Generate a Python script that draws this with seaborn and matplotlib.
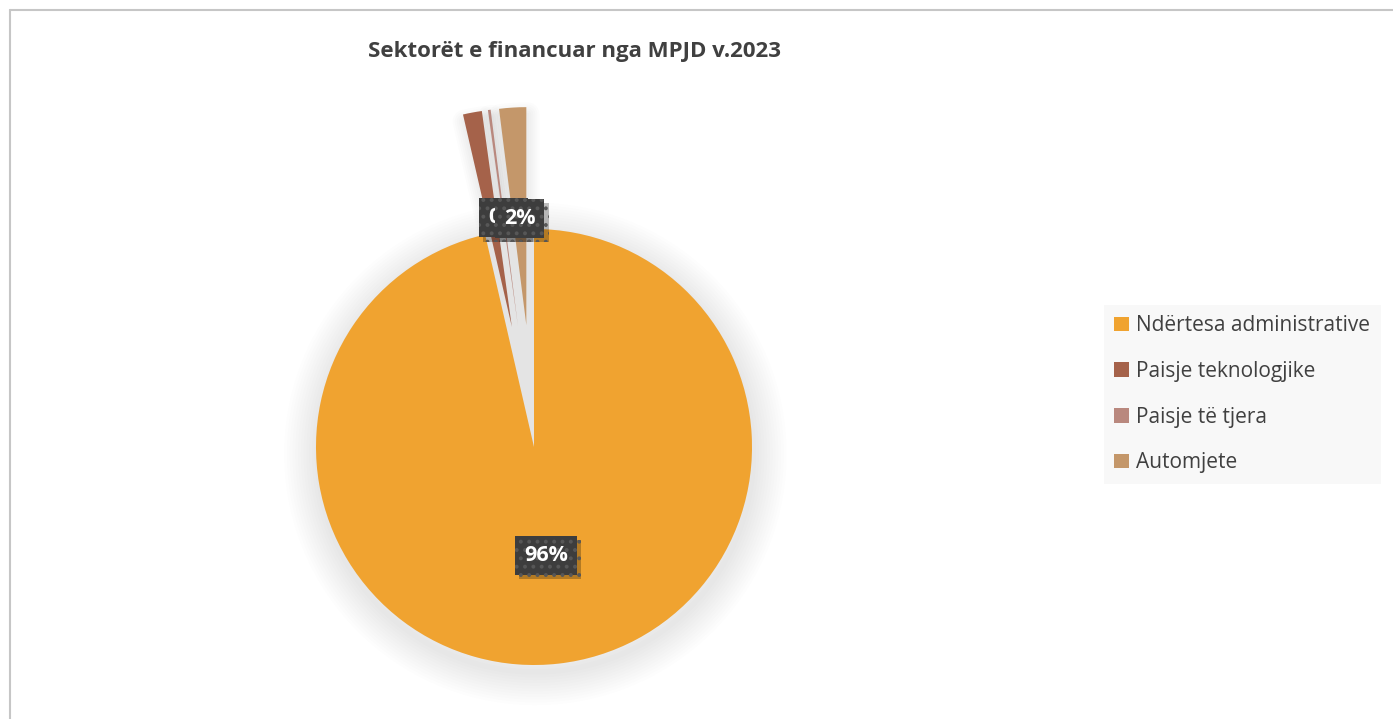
import matplotlib
matplotlib.use('Agg')

import numpy as np
import seaborn as sns
import matplotlib.pyplot as plt
import matplotlib.patheffects as pe
import matplotlib.transforms as mtrans
from matplotlib.patches import Circle, Wedge
from matplotlib.lines import Line2D

categories = ["Ndërtesa administrative", "Paisje teknologjike", "Paisje të tjera", "Automjete"]
values = [96.4, 1.4, 0.2, 2.0]
pct_labels = ["96%", "", "0%", "2%"]
colors = ["#f0a330", "#a5624a", "#b9887e", "#c4976a"]
title = "Sektorët e financuar nga MPJD v.2023"

sns.set_theme(style="white")
plt.rcParams['font.family'] = ['Open Sans', 'DejaVu Sans']
plt.rcParams['hatch.linewidth'] = 1.6

W, H = 1393, 719
fig = plt.figure(figsize=(W / 100, H / 100), dpi=100)
fig.patch.set_facecolor("white")

# pie axes: center at (534, 447) px, radius 218 px
R, cx, cy = 218, 534, 447
x0, x1 = -2.0, 2.0
y0, y1 = -1.2, 1.8
ax = fig.add_axes([(cx + x0 * R) / W, (H - (cy - y0 * R)) / H,
                   (x1 - x0) * R / W, (y1 - y0) * R / H])

# grey shading behind the pie (visible in the gap)
ax.add_patch(Circle((0, 0), 1.0, facecolor="#e4e4e4", edgecolor="none", zorder=1.5))

explode = [0, 0.56, 0.56, 0.56]
wedges, _ = ax.pie(values, colors=colors, startangle=90, counterclock=False,
                   explode=explode, radius=1,
                   wedgeprops=dict(linewidth=0))

# soft drop shadow under every slice
shift = ax.transData + mtrans.ScaledTranslation(1 / 72, -5 / 72, fig.dpi_scale_trans)
for i, w in enumerate(wedges):
    w.set_zorder(2)
    if i == 0:
        layers = [(lw, 0.009) for lw in range(4, 50, 4)]
    else:
        layers = [(lw, 0.012) for lw in range(2, 18, 3)]
    for lw, a in layers:
        ax.add_patch(Wedge(w.center, w.r, w.theta1, w.theta2, facecolor="none",
                           edgecolor="black", alpha=a, linewidth=lw,
                           joinstyle="round", transform=shift, zorder=1))

# data labels
for w, lab, dist in zip(wedges, pct_labels, [0.5, 0.5, 0.5, 0.49]):
    if not lab:
        continue
    ang = np.deg2rad((w.theta1 + w.theta2) / 2)
    px = w.center[0] + dist * np.cos(ang)
    py = w.center[1] + dist * np.sin(ang)
    t = ax.text(px, py, lab, ha="center", va="center", color="white",
                fontsize=15.5, fontweight="bold", zorder=5,
                bbox=dict(boxstyle="square,pad=0.42", facecolor="#3d3d3d",
                          edgecolor="#575757", linewidth=0, hatch=".."))
    t.get_bbox_patch().set_path_effects(
        [pe.SimplePatchShadow(offset=(3, -3), shadow_rgbFace="black", alpha=0.25), pe.Normal()])

ax.set_xlim(x0, x1)
ax.set_ylim(y0, y1)
ax.set_axis_off()

fig.text(574 / W, 1 - 52 / H, title, ha="center", va="center",
         fontsize=16, fontweight="bold", color="#404040")

leg = fig.legend(wedges, categories, loc="upper left",
                 bbox_to_anchor=(1104 / W, 1 - 305 / H),
                 frameon=True, fancybox=False, fontsize=15,
                 handlelength=0.7, handleheight=0.7, handletextpad=0.35,
                 labelspacing=1.18, borderpad=0.5, borderaxespad=0,
                 labelcolor="#404040")
leg.get_frame().set_facecolor("#f7f7f7")
leg.get_frame().set_edgecolor("none")

# chart area border (top and left visible)
fig.add_artist(Line2D([9.5 / W, 9.5 / W], [0, 1 - 9.5 / H], transform=fig.transFigure,
                      color="#c6c6c6", linewidth=1.5))
fig.add_artist(Line2D([9.5 / W, 1], [1 - 9.5 / H, 1 - 9.5 / H], transform=fig.transFigure,
                      color="#c6c6c6", linewidth=1.5))

fig.savefig("out.png", dpi=100)
